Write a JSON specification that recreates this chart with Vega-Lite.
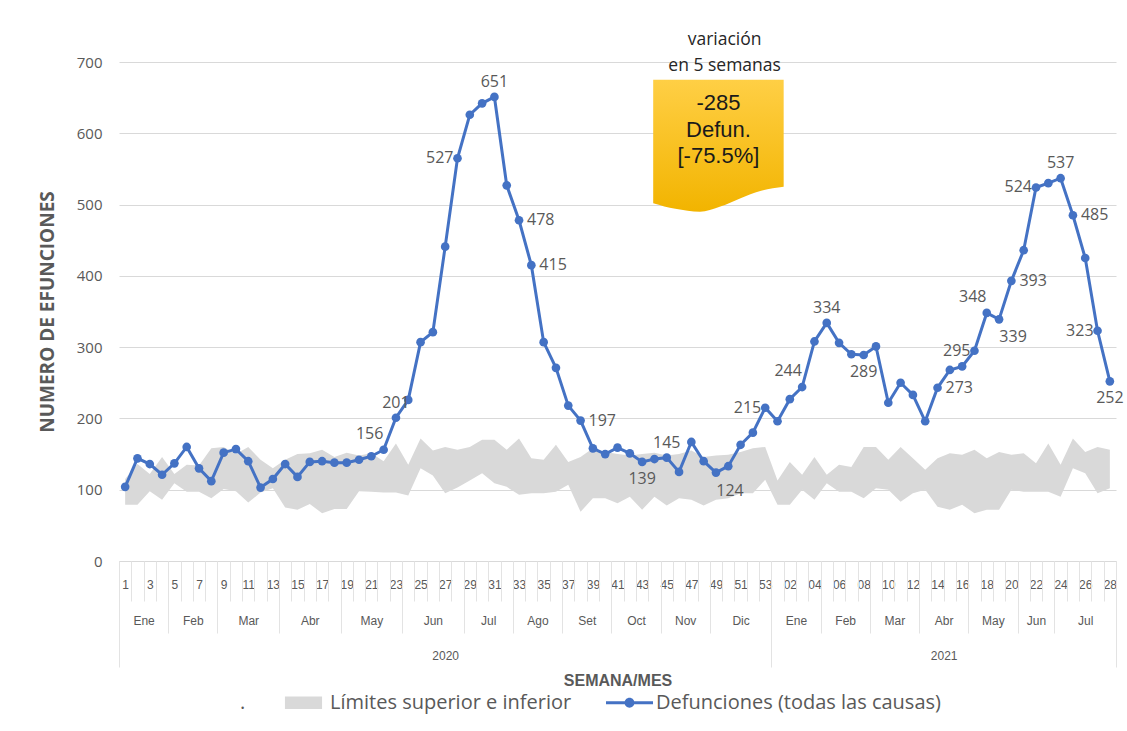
{
  "$schema": "https://vega.github.io/schema/vega-lite/v6.json",
  "width": 997,
  "height": 499,
  "autosize": {"type": "none"},
  "padding": {"left": 119, "top": 62, "right": 11, "bottom": 170},
  "background": "white",
  "config": {"view": {"stroke": null}, "font": "Open Sans"},
  "datasets": {
    "main": [
      {"anio": 2020, "semana": 1, "i": 0, "muertes": 104, "lim_inf": 79, "lim_sup": 115},
      {"anio": 2020, "semana": 2, "i": 1, "muertes": 144, "lim_inf": 79, "lim_sup": 136},
      {"anio": 2020, "semana": 3, "i": 2, "muertes": 136, "lim_inf": 98, "lim_sup": 122},
      {"anio": 2020, "semana": 4, "i": 3, "muertes": 121, "lim_inf": 86, "lim_sup": 146},
      {"anio": 2020, "semana": 5, "i": 4, "muertes": 137, "lim_inf": 109, "lim_sup": 122},
      {"anio": 2020, "semana": 6, "i": 5, "muertes": 160, "lim_inf": 97, "lim_sup": 135},
      {"anio": 2020, "semana": 7, "i": 6, "muertes": 130, "lim_inf": 97, "lim_sup": 134},
      {"anio": 2020, "semana": 8, "i": 7, "muertes": 112, "lim_inf": 88, "lim_sup": 158},
      {"anio": 2020, "semana": 9, "i": 8, "muertes": 152, "lim_inf": 101, "lim_sup": 160},
      {"anio": 2020, "semana": 10, "i": 9, "muertes": 157, "lim_inf": 98, "lim_sup": 150},
      {"anio": 2020, "semana": 11, "i": 10, "muertes": 140, "lim_inf": 82, "lim_sup": 160},
      {"anio": 2020, "semana": 12, "i": 11, "muertes": 103, "lim_inf": 96, "lim_sup": 142},
      {"anio": 2020, "semana": 13, "i": 12, "muertes": 115, "lim_inf": 102, "lim_sup": 130},
      {"anio": 2020, "semana": 14, "i": 13, "muertes": 136, "lim_inf": 75, "lim_sup": 142},
      {"anio": 2020, "semana": 15, "i": 14, "muertes": 118, "lim_inf": 72, "lim_sup": 150},
      {"anio": 2020, "semana": 16, "i": 15, "muertes": 139, "lim_inf": 80, "lim_sup": 151},
      {"anio": 2020, "semana": 17, "i": 16, "muertes": 140, "lim_inf": 67, "lim_sup": 156},
      {"anio": 2020, "semana": 18, "i": 17, "muertes": 138, "lim_inf": 73, "lim_sup": 146},
      {"anio": 2020, "semana": 19, "i": 18, "muertes": 138, "lim_inf": 73, "lim_sup": 152},
      {"anio": 2020, "semana": 20, "i": 19, "muertes": 142, "lim_inf": 98, "lim_sup": 148},
      {"anio": 2020, "semana": 21, "i": 20, "muertes": 147, "lim_inf": 97, "lim_sup": 151},
      {"anio": 2020, "semana": 22, "i": 21, "muertes": 156, "lim_inf": 96, "lim_sup": 140, "etiqueta": "156"},
      {"anio": 2020, "semana": 23, "i": 22, "muertes": 201, "lim_inf": 96, "lim_sup": 165, "etiqueta": "201"},
      {"anio": 2020, "semana": 24, "i": 23, "muertes": 226, "lim_inf": 92, "lim_sup": 135},
      {"anio": 2020, "semana": 25, "i": 24, "muertes": 307, "lim_inf": 130, "lim_sup": 172},
      {"anio": 2020, "semana": 26, "i": 25, "muertes": 321, "lim_inf": 120, "lim_sup": 155},
      {"anio": 2020, "semana": 27, "i": 26, "muertes": 441, "lim_inf": 95, "lim_sup": 160},
      {"anio": 2020, "semana": 28, "i": 27, "muertes": 565, "lim_inf": 103, "lim_sup": 156, "etiqueta": "527"},
      {"anio": 2020, "semana": 29, "i": 28, "muertes": 626, "lim_inf": 113, "lim_sup": 160},
      {"anio": 2020, "semana": 30, "i": 29, "muertes": 642, "lim_inf": 123, "lim_sup": 170},
      {"anio": 2020, "semana": 31, "i": 30, "muertes": 651, "lim_inf": 109, "lim_sup": 170, "etiqueta": "651"},
      {"anio": 2020, "semana": 32, "i": 31, "muertes": 527, "lim_inf": 104, "lim_sup": 156},
      {"anio": 2020, "semana": 33, "i": 32, "muertes": 478, "lim_inf": 93, "lim_sup": 172, "etiqueta": "478"},
      {"anio": 2020, "semana": 34, "i": 33, "muertes": 415, "lim_inf": 95, "lim_sup": 144, "etiqueta": "415"},
      {"anio": 2020, "semana": 35, "i": 34, "muertes": 307, "lim_inf": 95, "lim_sup": 142},
      {"anio": 2020, "semana": 36, "i": 35, "muertes": 271, "lim_inf": 97, "lim_sup": 163},
      {"anio": 2020, "semana": 37, "i": 36, "muertes": 218, "lim_inf": 107, "lim_sup": 139},
      {"anio": 2020, "semana": 38, "i": 37, "muertes": 197, "lim_inf": 69, "lim_sup": 146, "etiqueta": "197"},
      {"anio": 2020, "semana": 39, "i": 38, "muertes": 158, "lim_inf": 88, "lim_sup": 158},
      {"anio": 2020, "semana": 40, "i": 39, "muertes": 150, "lim_inf": 88, "lim_sup": 153},
      {"anio": 2020, "semana": 41, "i": 40, "muertes": 159, "lim_inf": 81, "lim_sup": 150},
      {"anio": 2020, "semana": 42, "i": 41, "muertes": 151, "lim_inf": 90, "lim_sup": 148},
      {"anio": 2020, "semana": 43, "i": 42, "muertes": 139, "lim_inf": 72, "lim_sup": 150, "etiqueta": "139"},
      {"anio": 2020, "semana": 44, "i": 43, "muertes": 143, "lim_inf": 90, "lim_sup": 152},
      {"anio": 2020, "semana": 45, "i": 44, "muertes": 145, "lim_inf": 78, "lim_sup": 148, "etiqueta": "145"},
      {"anio": 2020, "semana": 46, "i": 45, "muertes": 125, "lim_inf": 88, "lim_sup": 150},
      {"anio": 2020, "semana": 47, "i": 46, "muertes": 167, "lim_inf": 86, "lim_sup": 155},
      {"anio": 2020, "semana": 48, "i": 47, "muertes": 140, "lim_inf": 78, "lim_sup": 146},
      {"anio": 2020, "semana": 49, "i": 48, "muertes": 124, "lim_inf": 86, "lim_sup": 148, "etiqueta": "124"},
      {"anio": 2020, "semana": 50, "i": 49, "muertes": 133, "lim_inf": 88, "lim_sup": 149},
      {"anio": 2020, "semana": 51, "i": 50, "muertes": 163, "lim_inf": 95, "lim_sup": 153},
      {"anio": 2020, "semana": 52, "i": 51, "muertes": 180, "lim_inf": 95, "lim_sup": 158},
      {"anio": 2020, "semana": 53, "i": 52, "muertes": 215, "lim_inf": 114, "lim_sup": 160, "etiqueta": "215"},
      {"anio": 2021, "semana": 1, "i": 53, "muertes": 196, "lim_inf": 79, "lim_sup": 113},
      {"anio": 2021, "semana": 2, "i": 54, "muertes": 227, "lim_inf": 79, "lim_sup": 139},
      {"anio": 2021, "semana": 3, "i": 55, "muertes": 244, "lim_inf": 100, "lim_sup": 121, "etiqueta": "244"},
      {"anio": 2021, "semana": 4, "i": 56, "muertes": 308, "lim_inf": 86, "lim_sup": 146},
      {"anio": 2021, "semana": 5, "i": 57, "muertes": 334, "lim_inf": 109, "lim_sup": 121, "etiqueta": "334"},
      {"anio": 2021, "semana": 6, "i": 58, "muertes": 306, "lim_inf": 97, "lim_sup": 135},
      {"anio": 2021, "semana": 7, "i": 59, "muertes": 290, "lim_inf": 97, "lim_sup": 132},
      {"anio": 2021, "semana": 8, "i": 60, "muertes": 289, "lim_inf": 88, "lim_sup": 160, "etiqueta": "289"},
      {"anio": 2021, "semana": 9, "i": 61, "muertes": 301, "lim_inf": 102, "lim_sup": 160},
      {"anio": 2021, "semana": 10, "i": 62, "muertes": 222, "lim_inf": 100, "lim_sup": 142},
      {"anio": 2021, "semana": 11, "i": 63, "muertes": 250, "lim_inf": 83, "lim_sup": 160},
      {"anio": 2021, "semana": 12, "i": 64, "muertes": 233, "lim_inf": 95, "lim_sup": 144},
      {"anio": 2021, "semana": 13, "i": 65, "muertes": 196, "lim_inf": 100, "lim_sup": 128},
      {"anio": 2021, "semana": 14, "i": 66, "muertes": 243, "lim_inf": 76, "lim_sup": 144, "etiqueta": "273"},
      {"anio": 2021, "semana": 15, "i": 67, "muertes": 268, "lim_inf": 72, "lim_sup": 151},
      {"anio": 2021, "semana": 16, "i": 68, "muertes": 273, "lim_inf": 79, "lim_sup": 149},
      {"anio": 2021, "semana": 17, "i": 69, "muertes": 295, "lim_inf": 67, "lim_sup": 156, "etiqueta": "295"},
      {"anio": 2021, "semana": 18, "i": 70, "muertes": 348, "lim_inf": 72, "lim_sup": 144, "etiqueta": "348"},
      {"anio": 2021, "semana": 19, "i": 71, "muertes": 339, "lim_inf": 72, "lim_sup": 153, "etiqueta": "339"},
      {"anio": 2021, "semana": 20, "i": 72, "muertes": 393, "lim_inf": 100, "lim_sup": 149, "etiqueta": "393"},
      {"anio": 2021, "semana": 21, "i": 73, "muertes": 436, "lim_inf": 97, "lim_sup": 151},
      {"anio": 2021, "semana": 22, "i": 74, "muertes": 524, "lim_inf": 97, "lim_sup": 137, "etiqueta": "524"},
      {"anio": 2021, "semana": 23, "i": 75, "muertes": 530, "lim_inf": 97, "lim_sup": 165},
      {"anio": 2021, "semana": 24, "i": 76, "muertes": 537, "lim_inf": 90, "lim_sup": 135, "etiqueta": "537"},
      {"anio": 2021, "semana": 25, "i": 77, "muertes": 485, "lim_inf": 130, "lim_sup": 172, "etiqueta": "485"},
      {"anio": 2021, "semana": 26, "i": 78, "muertes": 425, "lim_inf": 123, "lim_sup": 153},
      {"anio": 2021, "semana": 27, "i": 79, "muertes": 323, "lim_inf": 95, "lim_sup": 160, "etiqueta": "323"},
      {"anio": 2021, "semana": 28, "i": 80, "muertes": 252, "lim_inf": 102, "lim_sup": 156, "etiqueta": "252"}
    ],
    "leyenda": [
      {"serie": "."},
      {"serie": "Límites superior e inferior"},
      {"serie": "Defunciones (todas las causas)"}
    ],
    "uno": [{}]
  },
  "data": {"name": "main"},
  "resolve": {"axis": {"x": "independent", "y": "independent"}},
  "layer": [
    {
      "mark": {"type": "area", "color": "#d9d9d9", "opacity": 1},
      "encoding": {
        "x": {
          "field": "i", "type": "quantitative",
          "scale": {"domain": [-0.5, 80.5], "nice": false, "zero": false},
          "axis": {
            "orient": "bottom",
            "values": [0,2,4,6,8,10,12,14,16,18,20,22,24,26,28,30,32,34,36,38,40,42,44,46,48,50,52,54,56,58,60,62,64,66,68,70,72,74,76,78,80],
            "labelExpr": "datum.value <= 52 ? toString(datum.value + 1) : (((datum.value - 52) < 10 ? '0' : '') + toString(datum.value - 52))",
            "ticks": false, "grid": false, "domain": true, "domainColor": "#d9d9d9",
            "labelFont": "Liberation Sans", "labelFontSize": 12, "labelColor": "#595959",
            "labelPadding": 18, "labelOverlap": false, "labelFlush": false, "title": null
          }
        },
        "y": {
          "field": "lim_inf", "type": "quantitative",
          "scale": {"domain": [0, 700], "nice": false},
          "axis": {
            "orient": "left",
            "values": [0,100,200,300,400,500,600,700],
            "title": "NUMERO DE EFUNCIONES",
            "titleFont": "Open Sans", "titleFontSize": 19, "titleFontWeight": "bold", "titleColor": "#595959",
            "titlePadding": 19,
            "labelFont": "Open Sans", "labelFontSize": 15, "labelColor": "#595959", "labelPadding": 17,
            "ticks": false, "domain": false, "grid": true, "gridColor": "#d9d9d9", "gridWidth": 1
          }
        },
        "y2": {"field": "lim_sup"}
      }
    },
    {
      "mark": {"type": "line", "color": "#4472c4", "strokeWidth": 3},
      "encoding": {
        "x": {
          "field": "i", "type": "quantitative",
          "scale": {"domain": [-0.5, 80.5], "nice": false, "zero": false},
          "axis": {
            "orient": "bottom",
            "values": [-0.5,0.5,1.5,2.5,3.5,4.5,5.5,6.5,7.5,8.5,9.5,10.5,11.5,12.5,13.5,14.5,15.5,16.5,17.5,18.5,19.5,20.5,21.5,22.5,23.5,24.5,25.5,26.5,27.5,28.5,29.5,30.5,31.5,32.5,33.5,34.5,35.5,36.5,37.5,38.5,39.5,40.5,41.5,42.5,43.5,44.5,45.5,46.5,47.5,48.5,49.5,50.5,51.5,52.5,53.5,54.5,55.5,56.5,57.5,58.5,59.5,60.5,61.5,62.5,63.5,64.5,65.5,66.5,67.5,68.5,69.5,70.5,71.5,72.5,73.5,74.5,75.5,76.5,77.5,78.5,79.5,80.5],
            "labels": false, "ticks": true, "tickSize": 40, "tickColor": "#e3e3e3", "tickWidth": 1,
            "domain": false, "grid": false, "title": null
          }
        },
        "y": {"field": "muertes", "type": "quantitative", "scale": {"domain": [0, 700], "nice": false}, "axis": null}
      }
    },
    {
      "mark": {"type": "point", "filled": true, "color": "#4472c4", "size": 75, "opacity": 1},
      "encoding": {
        "x": {
          "field": "i", "type": "quantitative",
          "scale": {"domain": [-0.5, 80.5], "nice": false, "zero": false},
          "axis": {
            "orient": "bottom",
            "values": [-0.5,3.5,7.5,12.5,17.5,22.5,27.5,31.5,35.5,39.5,43.5,47.5,52.5,56.5,60.5,64.5,68.5,72.5,75.5,80.5],
            "labels": false, "ticks": true, "tickSize": 72, "tickColor": "#e3e3e3", "tickWidth": 1,
            "domain": false, "grid": false, "title": null
          }
        },
        "y": {"field": "muertes", "type": "quantitative", "scale": {"domain": [0, 700], "nice": false}, "axis": null}
      }
    },
    {
      "transform": [{"filter": {"field": "i", "oneOf": [27, 52, 69, 74, 79]}}],
      "mark": {"type": "text", "font": "Open Sans", "fontSize": 16, "color": "#595959", "baseline": "middle", "align": "right", "dx": -4},
      "encoding": {
        "x": {
          "field": "i", "type": "quantitative",
          "scale": {"domain": [-0.5, 80.5], "nice": false, "zero": false},
          "axis": {
            "orient": "bottom",
            "values": [1.5,5.5,10,15,20,25,29.5,33.5,37.5,41.5,45.5,50,54.5,58.5,62.5,66.5,70.5,74,78],
            "labelExpr": "['Ene','Feb','Mar','Abr','May','Jun','Jul','Ago','Set','Oct','Nov','Dic','Ene','Feb','Mar','Abr','May','Jun','Jul'][indexof([1.5,5.5,10,15,20,25,29.5,33.5,37.5,41.5,45.5,50,54.5,58.5,62.5,66.5,70.5,74,78], datum.value)]",
            "ticks": false, "domain": false, "grid": false,
            "labelFont": "Liberation Sans", "labelFontSize": 12, "labelColor": "#595959",
            "labelPadding": 54, "labelOverlap": false, "labelFlush": false, "title": null
          }
        },
        "y": {"field": "muertes", "type": "quantitative", "scale": {"domain": [0, 700], "nice": false}, "axis": null},
        "text": {"field": "etiqueta"}
      }
    },
    {
      "transform": [{"filter": {"field": "i", "oneOf": [32, 33, 37, 66, 72, 77]}}],
      "mark": {"type": "text", "font": "Open Sans", "fontSize": 16, "color": "#595959", "baseline": "middle", "align": "left", "dx": 8},
      "encoding": {
        "x": {
          "field": "i", "type": "quantitative",
          "scale": {"domain": [-0.5, 80.5], "nice": false, "zero": false},
          "axis": {
            "orient": "bottom",
            "values": [-0.5, 52.5, 80.5],
            "labels": false, "ticks": true, "tickSize": 106, "tickColor": "#e3e3e3", "tickWidth": 1,
            "domain": false, "grid": false, "title": null
          }
        },
        "y": {"field": "muertes", "type": "quantitative", "scale": {"domain": [0, 700], "nice": false}, "axis": null},
        "text": {"field": "etiqueta"}
      }
    },
    {
      "transform": [{"filter": {"field": "i", "oneOf": [22, 30, 44, 57, 76]}}],
      "mark": {"type": "text", "font": "Open Sans", "fontSize": 16, "color": "#595959", "baseline": "middle", "align": "center", "dy": -15},
      "encoding": {
        "x": {
          "field": "i", "type": "quantitative",
          "scale": {"domain": [-0.5, 80.5], "nice": false, "zero": false},
          "axis": {
            "orient": "bottom",
            "values": [26, 66.5],
            "labelExpr": "datum.value < 50 ? '2020' : '2021'",
            "ticks": false, "domain": false, "grid": false,
            "labelFont": "Liberation Sans", "labelFontSize": 12, "labelColor": "#595959",
            "labelPadding": 89, "labelOverlap": false, "labelFlush": false,
            "title": "SEMANA/MES", "titleFont": "Liberation Sans", "titleFontSize": 16, "titleFontWeight": "bold",
            "titleColor": "#595959", "titlePadding": 11
          }
        },
        "y": {"field": "muertes", "type": "quantitative", "scale": {"domain": [0, 700], "nice": false}, "axis": null},
        "text": {"field": "etiqueta"}
      }
    },
    {
      "transform": [{"filter": {"field": "i", "oneOf": [21, 55, 70]}}],
      "mark": {"type": "text", "font": "Open Sans", "fontSize": 16, "color": "#595959", "baseline": "middle", "align": "center", "dx": -14, "dy": -16},
      "encoding": {
        "x": {"field": "i", "type": "quantitative", "scale": {"domain": [-0.5, 80.5], "nice": false, "zero": false}, "axis": null},
        "y": {"field": "muertes", "type": "quantitative", "scale": {"domain": [0, 700], "nice": false}, "axis": null},
        "text": {"field": "etiqueta"}
      }
    },
    {
      "transform": [{"filter": {"field": "i", "oneOf": [42, 60, 80]}}],
      "mark": {"type": "text", "font": "Open Sans", "fontSize": 16, "color": "#595959", "baseline": "middle", "align": "center", "dy": 17},
      "encoding": {
        "x": {"field": "i", "type": "quantitative", "scale": {"domain": [-0.5, 80.5], "nice": false, "zero": false}, "axis": null},
        "y": {"field": "muertes", "type": "quantitative", "scale": {"domain": [0, 700], "nice": false}, "axis": null},
        "text": {"field": "etiqueta"}
      }
    },
    {
      "transform": [{"filter": {"field": "i", "oneOf": [48, 71]}}],
      "mark": {"type": "text", "font": "Open Sans", "fontSize": 16, "color": "#595959", "baseline": "middle", "align": "center", "dx": 14, "dy": 18},
      "encoding": {
        "x": {"field": "i", "type": "quantitative", "scale": {"domain": [-0.5, 80.5], "nice": false, "zero": false}, "axis": null},
        "y": {"field": "muertes", "type": "quantitative", "scale": {"domain": [0, 700], "nice": false}, "axis": null},
        "text": {"field": "etiqueta"}
      }
    },
    {
      "data": {"values": [
        {"cx": 42.9, "arriba": 675, "abajo": 502},
        {"cx": 44.7, "arriba": 675, "abajo": 494},
        {"cx": 46.7, "arriba": 675, "abajo": 490},
        {"cx": 48.3, "arriba": 675, "abajo": 497},
        {"cx": 50.0, "arriba": 675, "abajo": 509},
        {"cx": 51.6, "arriba": 675, "abajo": 519},
        {"cx": 53.5, "arriba": 675, "abajo": 525}
      ]},
      "mark": {
        "type": "area", "interpolate": "monotone", "opacity": 1,
        "color": {"gradient": "linear", "x1": 0, "y1": 0, "x2": 0, "y2": 1,
          "stops": [{"offset": 0, "color": "#FFCF45"}, {"offset": 1, "color": "#F2B400"}]}
      },
      "encoding": {
        "x": {"field": "cx", "type": "quantitative", "scale": {"domain": [-0.5, 80.5], "nice": false, "zero": false}, "axis": null},
        "y": {"field": "arriba", "type": "quantitative", "scale": {"domain": [0, 700], "nice": false}, "axis": null},
        "y2": {"field": "abajo"}
      }
    },
    {
      "data": {"name": "uno"},
      "mark": {"type": "text", "text": ["-285", "Defun.", "[-75.5%]"], "font": "Liberation Sans", "fontSize": 22, "lineHeight": 26.5, "color": "#1a1a1a", "align": "center", "baseline": "top"},
      "encoding": {
        "x": {"datum": 48.2, "type": "quantitative", "scale": {"domain": [-0.5, 80.5], "nice": false, "zero": false}, "axis": null},
        "y": {"datum": 656, "type": "quantitative", "scale": {"domain": [0, 700], "nice": false}, "axis": null}
      }
    },
    {
      "data": {"name": "uno"},
      "mark": {"type": "text", "text": ["variación", "en 5 semanas"], "font": "Open Sans", "fontSize": 17.5, "lineHeight": 26, "color": "#262626", "align": "center", "baseline": "top"},
      "encoding": {
        "x": {"datum": 48.7, "type": "quantitative", "scale": {"domain": [-0.5, 80.5], "nice": false, "zero": false}, "axis": null},
        "y": {"datum": 743, "type": "quantitative", "scale": {"domain": [0, 700], "nice": false}, "axis": null}
      }
    },
    {
      "data": {"name": "leyenda"},
      "mark": {"type": "point", "filled": true, "opacity": 1, "clip": true},
      "encoding": {
        "x": {"datum": -50, "type": "quantitative", "scale": {"domain": [-0.5, 80.5], "nice": false, "zero": false}, "axis": null},
        "y": {"datum": -500, "type": "quantitative", "scale": {"domain": [0, 700], "nice": false}, "axis": null},
        "color": {
          "field": "serie", "type": "nominal",
          "scale": {"domain": [".", "Límites superior e inferior", "Defunciones (todas las causas)"], "range": ["#ffffff", "#d9d9d9", "#4472c4"]},
          "legend": {
            "title": null, "orient": "none", "legendX": 71, "legendY": 617, "direction": "horizontal",
            "symbolSize": 2209, "symbolStrokeWidth": 0, "symbolOpacity": 1,
            "labelFont": "Open Sans", "labelFontSize": 20, "labelColor": "#595959", "labelOffset": 3,
            "labelLimit": 400, "columnPadding": 34, "padding": 0
          }
        },
        "shape": {
          "field": "serie", "type": "nominal",
          "scale": {"domain": [".", "Límites superior e inferior", "Defunciones (todas las causas)"],
            "range": ["M-0.1,-0.1H0.1V0.1H-0.1Z", "M-0.79,-0.27H0.79V0.27H-0.79Z", "M-1,-0.065H1V0.065H-1Z M-0.21,0 A0.21,0.21 0 1,1 0.21,0 A0.21,0.21 0 1,1 -0.21,0 Z"]}
        }
      }
    }
  ]
}
